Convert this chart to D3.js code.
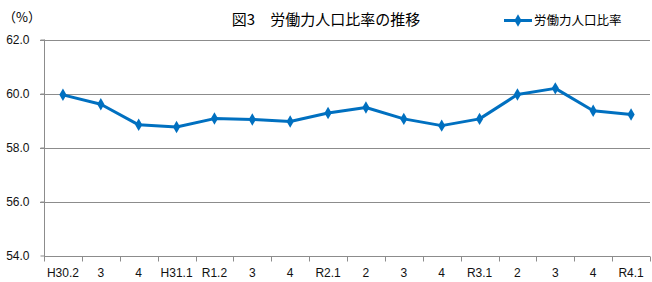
<!DOCTYPE html>
<meta charset="utf-8">
<script src="https://cdn.jsdelivr.net/npm/d3@7"></script>
<style>
  body { margin: 0; background: #fff; }
  text { font-family: "Liberation Sans", "Noto Sans CJK JP", sans-serif; }
  .jp { font-family: "Noto Sans CJK JP", sans-serif; }
</style>
<svg width="652" height="282"></svg>
<script>
// categories (month labels) and values
var months = ["H30.2", "3", "4", "H31.1", "R1.2", "3", "4", "R2.1", "2", "3", "4", "R3.1", "2", "3", "4", "R4.1"];
var rates = [59.95, 59.6, 58.84, 58.76, 59.07, 59.04, 58.96, 59.28, 59.48, 59.06, 58.81, 59.06, 59.96, 60.19, 59.36, 59.22];
var yTicks = [54, 56, 58, 60, 62];

var svg = d3.select("svg"),
  color = "#0070C0",
  grid = "#8c8c8c",
  plotL = 44, plotR = 650, plotT = 39.5, plotB = 255.5;

var x = d3.scaleBand().domain(months.map(function(d, i) { return i; })).range([plotL, plotR]);
var y = d3.scaleLinear().domain([54, 62]).range([plotB, plotT]);

// gridlines
svg.append("g")
  .selectAll("line")
  .data(yTicks.slice(1))
  .enter()
  .append("line")
  .attr("x1", plotL - 4)
  .attr("x2", plotR)
  .attr("y1", function(d) { return Math.round(y(d)) + 0.5; })
  .attr("y2", function(d) { return Math.round(y(d)) + 0.5; })
  .attr("stroke", grid);

// y axis
var yAxis = svg.append("g")
  .attr("transform", "translate(" + (plotL + 0.5) + ",0)")
  .call(d3.axisLeft(y).tickValues(yTicks).tickSize(4).tickFormat(d3.format(".1f")));
yAxis.select(".domain").attr("stroke", grid).attr("d", "M0," + plotT + "V" + (Math.round(plotB) + 0.5));
yAxis.selectAll(".tick line").attr("stroke", grid);
yAxis.selectAll(".tick text").attr("x", -15).attr("fill", "#111").style("font-size", "12px")
  .style("font-family", "Liberation Sans");

// x axis
var xAxis = svg.append("g")
  .attr("transform", "translate(0," + (Math.round(plotB) + 0.5) + ")")
  .call(d3.axisBottom(x).tickSize(0).tickFormat(function(i) { return months[i]; }));
xAxis.select(".domain").attr("stroke", grid).attr("d", "M" + plotL + ",0H" + plotR);
xAxis.selectAll(".tick text").attr("y", 12).attr("fill", "#111").style("font-size", "12px")
  .style("font-family", "Liberation Sans");
// boundary ticks
xAxis.append("g")
  .selectAll("line")
  .data(d3.range(months.length + 1))
  .enter()
  .append("line")
  .attr("x1", function(i) { return Math.round(plotL + i * x.bandwidth()) + 0.5; })
  .attr("x2", function(i) { return Math.round(plotL + i * x.bandwidth()) + 0.5; })
  .attr("y1", 0)
  .attr("y2", 5)
  .attr("stroke", grid);

// line
var line = d3.line()
  .x(function(d, i) { return x(i) + x.bandwidth() / 2; })
  .y(function(d) { return y(d); });

svg.append("path")
  .datum(rates)
  .attr("fill", "none")
  .attr("stroke", color)
  .attr("stroke-width", 3)
  .attr("stroke-linejoin", "round")
  .attr("d", line);

var diamond = d3.symbol().type(d3.symbolDiamond).size(45);
svg.append("g")
  .selectAll("path")
  .data(rates)
  .enter()
  .append("path")
  .attr("d", diamond)
  .attr("fill", color)
  .attr("transform", function(d, i) {
    return "translate(" + (x(i) + x.bandwidth() / 2) + "," + y(d) + ")";
  });

// title
svg.append("text")
  .attr("class", "jp")
  .attr("x", 326)
  .attr("y", 25)
  .attr("text-anchor", "middle")
  .style("font-size", "15px")
  .text("図3　労働力人口比率の推移");

// unit
svg.append("text")
  .attr("class", "jp")
  .attr("x", 3)
  .attr("y", 22)
  .style("font-size", "13px")
  .text("（%）");

// legend
svg.append("line")
  .attr("x1", 504).attr("x2", 532)
  .attr("y1", 20.5).attr("y2", 20.5)
  .attr("stroke", color)
  .attr("stroke-width", 3);
svg.append("path")
  .attr("d", diamond)
  .attr("fill", color)
  .attr("transform", "translate(518,20.5)");
svg.append("text")
  .attr("class", "jp")
  .attr("x", 534)
  .attr("y", 25)
  .style("font-size", "12.5px")
  .text("労働力人口比率");
</script>
